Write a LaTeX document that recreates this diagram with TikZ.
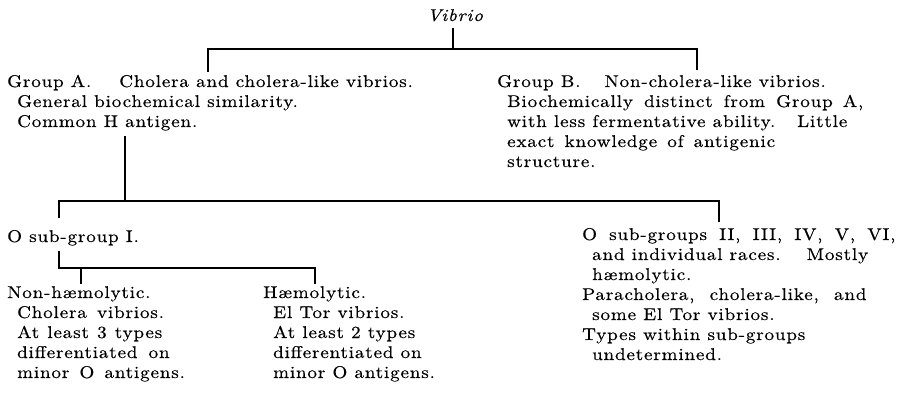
\documentclass[tikz,border=0pt]{standalone}
\usepackage{fontspec}
\setmainfont{lmroman10}[Extension=.otf, UprightFont=*-regular, ItalicFont=*-italic, BoldFont=*-bold, BoldItalicFont=*-bolditalic, FakeStretch=1.12, LetterSpace=5, UprightFeatures={FakeBold=0.5}, ItalicFeatures={FakeBold=0.5}]
\newcommand\diagfont{\fontsize{17}{20}\selectfont}
\newcommand\ind{\hspace*{10pt}}
\newcommand\gap{\hspace{26pt}}
\newcommand\ws[1]{\hspace{#1pt}}
\begin{document}
\begin{tikzpicture}[x=1pt,y=-1pt,
  txt/.style={inner sep=0pt, anchor=base west, align=left, font=\diagfont},
  conn/.style={line width=1.5pt}]
\useasboundingbox (0,0) rectangle (911,398);
% texts (multi-line nodes are placed by the baseline of their last line)
\node[txt, anchor=base] (vib) at (455,21) {\itshape Vibrio};
\node[txt] (ga) at (7,127) {Group A.\ws{28}Cholera and cholera-like vibrios.\\\ind General biochemical similarity.\\\ind Common H antigen.};
\node[txt] (gb) at (497,167) {Group B.\ws{24}Non-cholera-like vibrios.\\\ind Biochemically\ws{4} distinct\ws{4} from\ws{4} Group\ws{3} A,\\\ind with less fermentative ability.\ws{22}Little\\\ind exact\ws{3} knowledge\ws{3} of\ws{3} antigenic\\\ind structure.};
\node[txt] (s1) at (7,242) {O sub-group I.};
\node[txt] (s2) at (582,360) {O\ws{5} sub-groups\ws{5} II,\ws{5} III,\ws{5} IV,\ws{5} V,\ws{5} VI,\\\ind and individual races.\ws{26}Mostly\\\ind hæmolytic.\\Paracholera,\ws{8} cholera-like,\ws{8} and\\\ind some El Tor vibrios.\\Types within sub-groups\\\ind undetermined.};
\node[txt] (nh) at (7,378) {Non-hæmolytic.\\\ind Cholera\ws{3} vibrios.\\\ind At\ws{1} least\ws{1} 3\ws{1} types\\\ind differentiated\ws{4} on\\\ind minor\ws{3} O\ws{3} antigens.};
\node[txt] (hm) at (263,378) {Hæmolytic.\\\ind El Tor vibrios.\\\ind At least 2 types\\\ind differentiated on\\\ind minor O antigens.};
% junction coordinates
\coordinate (vibtick) at (453,28);
\coordinate (vibbar) at (453,49);
\coordinate (b1l) at (208,49);
\coordinate (b1r) at (697,49);
\coordinate (gatop) at (208,72);
\coordinate (gbtop) at (697,70);
\coordinate (gabot) at (125,136);
\coordinate (b2m) at (125,201);
\coordinate (b2l) at (59,201);
\coordinate (b2r) at (719,201);
\coordinate (s1top) at (59,218);
\coordinate (s2top) at (719,222);
\coordinate (s1bot) at (59,251);
\coordinate (b3l) at (59,268);
\coordinate (b3a) at (81,268);
\coordinate (b3r) at (315,268);
\coordinate (nhtop) at (81,284);
\coordinate (hmtop) at (315,284);
% connectors
\draw[conn] (vibtick) -- (vibbar);
\draw[conn] (gatop) -- (b1l) -- (b1r) -- (gbtop);
\draw[conn] (gabot) -- (b2m);
\draw[conn] (s1top) -- (b2l) -- (b2r) -- (s2top);
\draw[conn] (s1bot) -- (b3l) -- (b3r) -- (hmtop);
\draw[conn] (b3a) -- (nhtop);
\end{tikzpicture}
\end{document}
